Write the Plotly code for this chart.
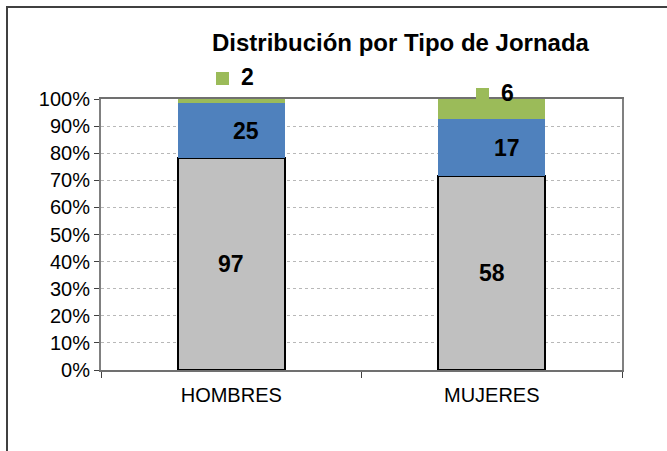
import plotly.graph_objects as go

categories = ["HOMBRES", "MUJERES"]
series_names = ["Completa", "Parcial", "Otra"]
completa = [97, 58]
parcial = [25, 17]
otra = [2, 6]
colors = ["#C0C0C0", "#4F81BD", "#9BBB59"]
title = "Distribución por Tipo de Jornada"
y_ticks = list(range(0, 101, 10))
y_tick_labels = ["%d%%" % v for v in y_ticks]

series = [completa, parcial, otra]
totals = [sum(v) for v in zip(*series)]
pct = [[100.0 * v / t for v, t in zip(s, totals)] for s in series]

# plot geometry (pixels)
W, H = 667, 451
ML, MR, MT, MB = 101, 45, 99, 81
PW, PH = W - ML - MR, H - MT - MB

fig = go.Figure()
for i, (name, vals) in enumerate(zip(series_names, series)):
    fig.add_trace(go.Bar(
        x=categories, y=vals, name=name,
        marker=dict(color=colors[i],
                    line=dict(color="#000000", width=2.2 if i == 0 else 0)),
        width=0.41, showlegend=False, hoverinfo="skip",
    ))

fig.update_layout(barmode="stack", barnorm="percent")

annotations = []
shapes = []
lab_font = dict(family="Liberation Sans, Arial, sans-serif", size=23, color="#000000")

for j, cat in enumerate(categories):
    base = 0.0
    for i in range(3):
        mid = base + pct[i][j] / 2
        top = base + pct[i][j]
        text = "<b>%d</b>" % series[i][j]
        if i == 0:
            annotations.append(dict(x=cat, y=mid, xref="x", yref="y", text=text,
                                    showarrow=False, font=lab_font))
        elif i == 1:
            annotations.append(dict(x=cat, y=mid, xref="x", yref="y", text=text,
                                    showarrow=False, font=lab_font, xshift=15))
        else:
            yshift = [22, 6][j]
            annotations.append(dict(x=cat, y=100, xref="x", yref="y", text=text,
                                    showarrow=False, font=lab_font, xshift=16,
                                    yshift=yshift))
            # legend key square shown next to the label
            annotations.append(dict(x=cat, y=100, xref="x", yref="y", text=" ",
                                    showarrow=False, width=13, height=13,
                                    bgcolor=colors[2], borderpad=0, borderwidth=0,
                                    font=dict(size=8),
                                    xshift=-9, yshift=yshift - 1))
        base = top

annotations.append(dict(
    x=(401 - ML) / PW, y=(MT + PH - 43) / PH, xref="paper", yref="paper",
    text="<b>%s</b>" % title, showarrow=False,
    font=dict(family="Liberation Sans, Arial, sans-serif", size=24, color="#000000"),
    xanchor="center", yanchor="middle"))

# outer chart frame
shapes.append(dict(type="rect", xref="paper", yref="paper",
                   x0=(7 - ML) / PW, x1=2.0, y0=-1.0, y1=(MT + PH - 7) / PH,
                   line=dict(color="#404040", width=2), fillcolor="rgba(0,0,0,0)",
                   layer="below"))

fig.update_layout(
    width=W, height=H,
    margin=dict(l=ML, r=MR, t=MT, b=MB, pad=0),
    paper_bgcolor="#FFFFFF", plot_bgcolor="#FFFFFF",
    annotations=annotations, shapes=shapes,
    font=dict(family="Liberation Sans, Arial, sans-serif", size=20, color="#000000"),
)
fig.update_yaxes(
    range=[0, 100], tickmode="array", tickvals=y_ticks, ticktext=y_tick_labels,
    showgrid=True, gridcolor="#B8B8B8", griddash="dot", gridwidth=1,
    showline=True, linecolor="#808080", linewidth=2, mirror=True,
    ticks="outside", ticklen=5, tickcolor="#404040", tickwidth=1,
    tickfont=dict(size=20), zeroline=False,
)
fig.update_xaxes(
    showline=True, linecolor="#707070", linewidth=2, mirror=True,
    ticks="outside", ticklen=6, tickcolor="#404040", tickson="boundaries",
    tickfont=dict(size=20), showgrid=False, ticklabelstandoff=6,
)

fig.write_html("out.html", config={"displayModeBar": False})

# remove default page margin so the figure sits at the window origin
with open("out.html", "r", encoding="utf-8") as f:
    html = f.read()
html = html.replace("<head>", "<head><style>html,body{margin:0;padding:0;}</style>", 1)
with open("out.html", "w", encoding="utf-8") as f:
    f.write(html)
